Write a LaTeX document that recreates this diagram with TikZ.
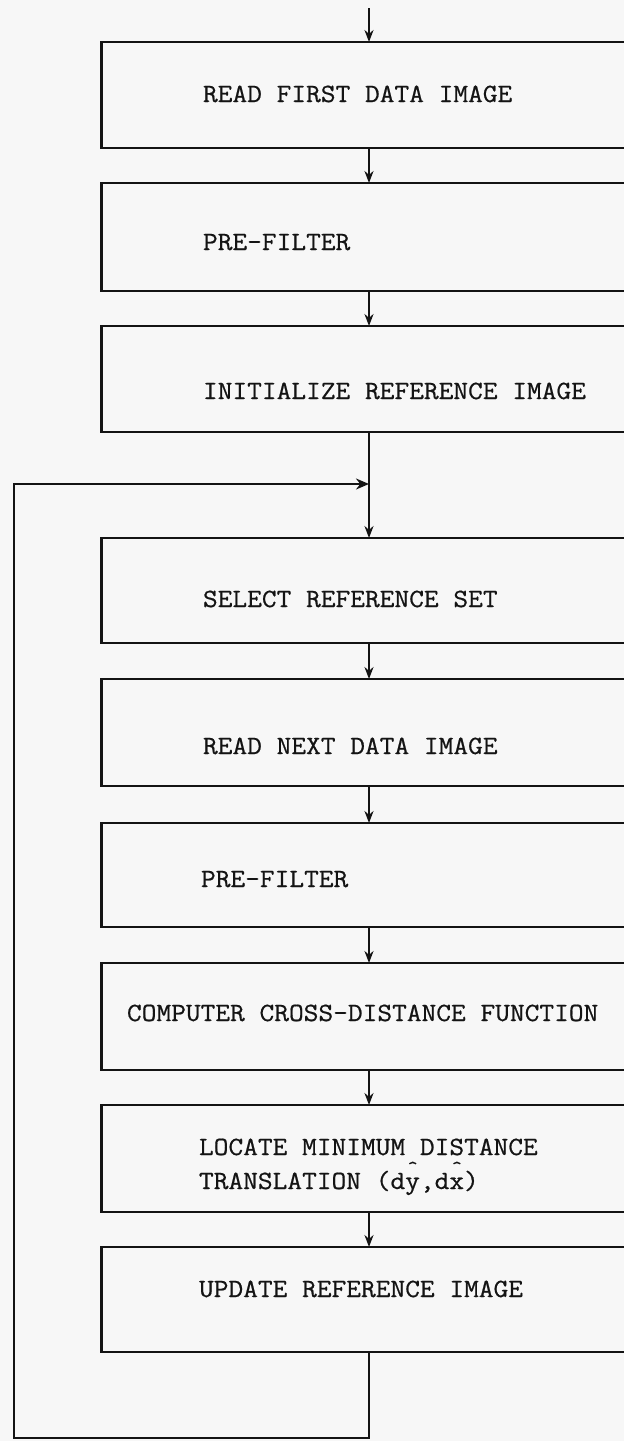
\documentclass[tikz,border=0pt]{standalone}
\usepackage{fontspec}
\newfontfamily\tw[FakeBold=0.6]{Latin Modern Mono}
\usetikzlibrary{arrows.meta}
\newcommand{\tsc}[1]{\scalebox{1}[0.92]{#1}}
\newcommand{\hatch}[1]{\rlap{\raisebox{0.6em}{\makebox[0.525em]{\scalebox{0.7}{\char94}}}}#1}
\tikzset{
  box/.style={draw=black!92, line width=1.3pt, rectangle, inner sep=0pt, outer sep=0pt,
              minimum width=309.25pt},
  lbl/.style={anchor=base west, inner sep=0pt, outer sep=0pt, text=black!92,
              font=\tw\bfseries\fontsize{14.3}{16}\selectfont},
  conn/.style={draw=black!92, line width=1.25pt},
  arr/.style={conn, -{Stealth[length=6pt, width=4.5pt]}},
  arrl/.style={conn, -{Stealth[length=6.5pt, width=5.5pt]}}
}
\begin{document}
\begin{tikzpicture}[x=0.5pt, y=-0.5pt]
\useasboundingbox (0,0) rectangle (624,1441);
\fill[black!3] (0,0) rectangle (624,1441);
\clip (0,0) rectangle (624,1441);

% boxes
\node[box, minimum height=53pt]   (b1) at (410.75,95)     {};
\node[box, minimum height=54pt]   (b2) at (410.75,237)    {};
\node[box, minimum height=53pt]   (b3) at (410.75,379)    {};
\node[box, minimum height=52.5pt] (b4) at (410.75,590.5)  {};
\node[box, minimum height=53.5pt] (b5) at (410.75,732.5)  {};
\node[box, minimum height=52pt]   (b6) at (410.75,875)    {};
\node[box, minimum height=53.5pt] (b7) at (410.75,1016.5) {};
\node[box, minimum height=53.5pt] (b8) at (410.75,1158.5) {};
\node[box, minimum height=52.5pt] (b9) at (410.75,1299.5) {};

% labels
\node[lbl] (t1) at (203,102)  {\tsc{READ FIRST DATA IMAGE}};
\node[lbl] (t2) at (203,250)  {\tsc{PRE-FILTER}};
\node[lbl] (t3) at (203,399)  {\tsc{INITIALIZE REFERENCE IMAGE}};
\node[lbl] (t4) at (203,607)  {\tsc{SELECT REFERENCE SET}};
\node[lbl] (t5) at (203,754)  {\tsc{READ NEXT DATA IMAGE}};
\node[lbl] (t6) at (201,887)  {\tsc{PRE-FILTER}};
\node[lbl] (t7) at (127,1021) {\tsc{COMPUTER CROSS-DISTANCE FUNCTION}};
\node[lbl] (t8a) at (199,1155) {\tsc{LOCATE MINIMUM DISTANCE}};
\node[lbl] (t8b) at (199,1189) {\tsc{TRANSLATION (d\hatch{y},d\hatch{x})}};
\node[lbl] (t9) at (199,1297) {\tsc{UPDATE REFERENCE IMAGE}};

% connectors
\coordinate (ax) at (369,0);
\coordinate (start) at (369,8);
\coordinate (lb) at (14,1438);
\coordinate (lt) at (14,484);

\draw[arr] (start) -- (b1.north -| ax);
\draw[arr] (b1.south -| ax) -- (b2.north -| ax);
\draw[arr] (b2.south -| ax) -- (b3.north -| ax);
\draw[arr] (b3.south -| ax) -- (b4.north -| ax);
\draw[arr] (b4.south -| ax) -- (b5.north -| ax);
\draw[arr] (b5.south -| ax) -- (b6.north -| ax);
\draw[arr] (b6.south -| ax) -- (b7.north -| ax);
\draw[arr] (b7.south -| ax) -- (b8.north -| ax);
\draw[arr] (b8.south -| ax) -- (b9.north -| ax);
\draw[arrl, line join=miter] (b9.south -| ax) |- (lb) -- (lt) -- (lt -| ax);
\end{tikzpicture}
\end{document}
